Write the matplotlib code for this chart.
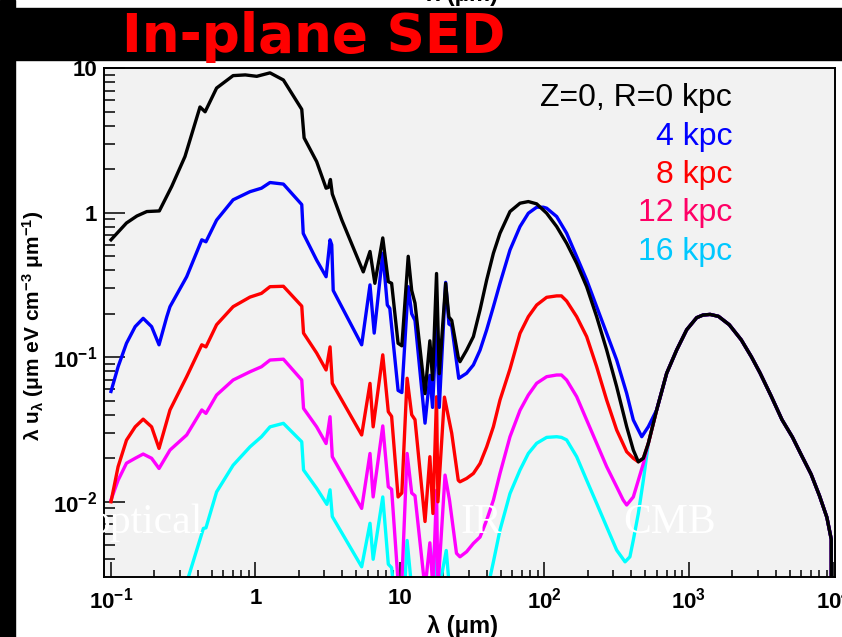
import numpy as np
import matplotlib
matplotlib.use('Agg')
import matplotlib.pyplot as plt
from matplotlib.patches import Rectangle
from matplotlib.ticker import LogLocator, FuncFormatter, NullFormatter

plt.rcParams['font.family'] = ['Liberation Sans', 'DejaVu Sans']
plt.rcParams['mathtext.fontset'] = 'custom'
plt.rcParams['mathtext.rm'] = 'Liberation Sans'
plt.rcParams['mathtext.bf'] = 'Liberation Sans:bold'
plt.rcParams['mathtext.it'] = 'Liberation Sans:italic'

# ISRF energy density in the plane, lambda*u_lambda [eV cm^-3], lambda in um
# R = 0 kpc
lam_r0 = [0.1, 0.128, 0.151, 0.177, 0.216, 0.263, 0.325, 0.413, 0.448, 0.538,
          0.70, 0.85, 1.02, 1.26, 1.56, 2.09, 2.17, 2.65, 3.08, 3.2, 3.3, 3.4,
          3.96, 5.57, 6.2, 6.7, 7.6, 8.3, 8.75, 9.7, 10.3, 11.4, 12.05, 12.7,
          14.9, 16.1, 16.8, 17.9, 18.7, 20.7, 21.8, 22.8, 25.3, 26.0, 28.9, 32.2,
          35.8, 39.8, 44.3, 49.2, 57.7, 67.7, 77.3, 88.3, 103.5, 121.4, 142.3, 167,
          195.8, 229.6, 269.3, 315.8, 370.4, 411.8, 446.1, 483.1, 523.2]
sed_r0 = [0.65, 0.85, 0.95, 1.02, 1.03, 1.52, 2.45, 5.4, 5.0, 7.3,
          8.9, 9.0, 8.8, 9.3, 8.3, 5.2, 3.3, 2.26, 1.48, 1.5, 1.7, 1.35,
          0.89, 0.39, 0.54, 0.325, 0.67, 0.334, 0.325, 0.125, 0.12, 0.50, 0.29, 0.237,
          0.056, 0.13, 0.07, 0.38, 0.077, 0.325, 0.19, 0.18, 0.10, 0.0932, 0.112, 0.139,
          0.213, 0.343, 0.525, 0.722, 1.02, 1.165, 1.196, 1.153, 0.993, 0.803, 0.615, 0.447,
          0.308, 0.191, 0.1123, 0.0626, 0.0331, 0.0228, 0.0189, 0.020, 0.0254]

# R = 4 kpc
lam_r4 = [0.1, 0.112, 0.128, 0.147, 0.167, 0.191, 0.215, 0.243, 0.256, 0.334, 0.425,
          0.454, 0.538, 0.70, 0.916, 1.10, 1.26, 1.56, 2.09, 2.14, 2.65, 3.08,
          3.28, 3.37, 3.45, 5.43, 6.2, 6.63, 7.6, 8.17, 8.5, 9.7, 10.3, 11.4,
          12.05, 12.7, 14.9, 16.1, 16.8, 17.9, 18.7, 20.7, 21.8, 22.8, 25.5, 28.9,
          32.2, 35.8, 39.8, 44.3, 49.2, 57.7, 67.7, 77.3, 88.3, 98.2, 103.5, 121.4,
          142.3, 167, 195.8, 229.6, 269.3, 315.8, 370.4, 411.8, 471, 523.2]
sed_r4 = [0.058, 0.086, 0.125, 0.163, 0.186, 0.163, 0.122, 0.19, 0.224, 0.361, 0.65,
          0.63, 0.89, 1.23, 1.40, 1.48, 1.62, 1.58, 1.14, 0.72, 0.47, 0.361,
          0.65, 0.60, 0.29, 0.122, 0.317, 0.147, 0.525, 0.23, 0.218, 0.059, 0.057, 0.308,
          0.20, 0.18, 0.035, 0.075, 0.045, 0.17, 0.045, 0.33, 0.17, 0.165, 0.0715, 0.0775,
          0.0885, 0.112, 0.155, 0.224, 0.325, 0.553, 0.803, 0.993, 1.093, 1.093, 1.076, 0.942,
          0.722, 0.498, 0.343, 0.224, 0.1466, 0.0958, 0.0563, 0.0368, 0.0282, 0.0331]

# R = 8 kpc
lam_r8 = [0.1, 0.112, 0.128, 0.147, 0.167, 0.191, 0.215, 0.256, 0.334, 0.425, 0.454, 0.538,
          0.70, 0.916, 1.10, 1.26, 1.56, 2.09, 2.15, 2.65, 3.08, 3.28, 3.4,
          5.43, 6.2, 6.52, 7.6, 8.3, 8.75, 9.7, 10.3, 11.2, 12.05, 12.7, 14.9,
          16.1, 16.9, 17.9, 18.3, 20.3, 22.8, 25.3, 26.0, 28.9, 32.2, 35.8, 39.8,
          44.3, 49.2, 57.7, 67.7, 77.3, 88.3, 103.5, 121.4, 131, 142.3, 167, 195.8,
          229.6, 269.3, 315.8, 370.4, 411.8, 446.1, 483.1, 523.2]
sed_r8 = [0.010, 0.0175, 0.0267, 0.033, 0.0373, 0.033, 0.0234, 0.0432, 0.0734, 0.122, 0.118, 0.168,
          0.224, 0.261, 0.277, 0.308, 0.31, 0.226, 0.147, 0.107, 0.0817, 0.118, 0.066,
          0.029, 0.066, 0.033, 0.104, 0.042, 0.039, 0.0108, 0.0115, 0.0716, 0.040, 0.037, 0.0073,
          0.0205, 0.0083, 0.0533, 0.010, 0.053, 0.0298, 0.0141, 0.01375, 0.0145, 0.0157, 0.0184, 0.024,
          0.0331, 0.0506, 0.083, 0.1466, 0.191, 0.230, 0.260, 0.266, 0.266, 0.245, 0.191, 0.139,
          0.086, 0.0506, 0.0314, 0.0222, 0.020, 0.0189, 0.020, 0.0254]

# R = 12 kpc
lam_r12 = [0.1, 0.112, 0.128, 0.147, 0.167, 0.191, 0.215, 0.256, 0.334, 0.425, 0.454, 0.538,
           0.70, 0.916, 1.10, 1.26, 1.56, 2.09, 2.15, 2.65, 3.08, 3.28, 3.4,
           5.43, 6.2, 6.52, 7.6, 8.3, 8.75, 9.7, 10.3, 11.2, 12.05, 12.7, 14.9,
           16.1, 16.9, 17.9, 18.3, 20.5, 22, 24.6, 26.0, 28.9, 32.2, 35.8, 39.8,
           44.3, 49.2, 57.7, 67.7, 77.3, 88.3, 103.5, 121.4, 131, 142.3, 167, 195.8,
           229.6, 269.3, 315.8, 350, 370.4, 411.8, 446.1, 483.1, 523.2]
sed_r12 = [0.0103, 0.0141, 0.0185, 0.020, 0.0214, 0.020, 0.017, 0.0228, 0.029, 0.0432, 0.0409, 0.0548,
           0.0696, 0.0794, 0.086, 0.0957, 0.097, 0.0696, 0.0443, 0.033, 0.0253, 0.0388, 0.0205,
           0.009, 0.0216, 0.0108, 0.0335, 0.0127, 0.0122, 0.0028, 0.0028, 0.0216, 0.0115, 0.011, 0.0025,
           0.0052, 0.0025, 0.012, 0.0025, 0.0153, 0.0103, 0.0044, 0.00416, 0.00451, 0.00515, 0.0057, 0.00747,
           0.01027, 0.0157, 0.0282, 0.043, 0.0548, 0.0661, 0.0734, 0.0754, 0.0754, 0.0696, 0.0534, 0.0368,
           0.0254, 0.0175, 0.0127, 0.0103, 0.0095, 0.0108, 0.0141, 0.0184, 0.0254]

# R = 16 kpc
lam_r16 = [0.32, 0.436, 0.454, 0.538, 0.70, 0.916, 1.10, 1.26, 1.56, 2.09,
           2.15, 2.65, 3.12, 3.28, 3.4, 5.43, 6.2, 6.52, 7.6, 8.3, 8.75, 9.5,
           10.5, 11.2, 12.05, 12.7, 16.5, 17.4, 18.2, 20.9, 22, 40, 42, 44.3,
           49.2, 57.7, 67.7, 77.3, 88.3, 103.5, 121.4, 131, 142.3, 167, 195.8, 229.6,
           269.3, 315.8, 361, 390, 411.8, 446.1, 483.1, 523.2]
sed_r16 = [0.0024, 0.00654, 0.0066, 0.0117, 0.0179, 0.024, 0.0282, 0.033, 0.0349, 0.026,
           0.0166, 0.0124, 0.0096, 0.0121, 0.0079, 0.00355, 0.0071, 0.0040, 0.0108, 0.0037, 0.0035, 0.0015,
           0.0015, 0.0054, 0.0025, 0.0022, 0.0022, 0.0052, 0.0022, 0.0046, 0.0025, 0.0025, 0.003, 0.00384,
           0.00637, 0.0114, 0.0166, 0.0216, 0.0254, 0.0279, 0.0282, 0.0279, 0.0268, 0.0205, 0.0141, 0.00975,
           0.00671, 0.00463, 0.00384, 0.00416, 0.00543, 0.0083, 0.0141, 0.0254]

# CMB tail shared by all radii
lam_cmb = [597.4, 700.6, 821.5, 963.6, 1130, 1250, 1400, 1600, 1900, 2300,
           2700, 3100, 3700, 4400, 5200, 6000, 7000, 8000, 9000, 9650, 9700]
sed_cmb = [0.0432, 0.0775, 0.1123, 0.155, 0.188, 0.196, 0.198, 0.192, 0.168, 0.132,
           0.101, 0.078, 0.054, 0.037, 0.028, 0.021, 0.0155, 0.011, 0.0078, 0.0055, 0.0001]

labels = ['Z=0, R=0 kpc', '4 kpc', '8 kpc', '12 kpc', '16 kpc']
line_colors = ['black', '#0000ff', '#ff0000', '#ff00ff', '#00ffff']
text_colors = ['black', '#0000ff', '#ff0000', '#ff0066', '#00c8ff']
curves = [(lam_r0, sed_r0), (lam_r4, sed_r4), (lam_r8, sed_r8),
          (lam_r12, sed_r12), (lam_r16, sed_r16)]

W, H = 842, 637
fig = plt.figure(figsize=(W / 100, H / 100), dpi=100)

# slide decoration: black title band and left strip
fig.text(462 / W, 1 - 6 / H, 'λ (μm)', ha='center', va='bottom',
         fontsize=17, fontweight='bold', zorder=1)
fig.patches.append(Rectangle((0, 1 - 60 / H), 1, 52 / H, transform=fig.transFigure,
                             color='black', zorder=2))
fig.patches.append(Rectangle((0, 0), 15 / W, 1, transform=fig.transFigure,
                             color='black', zorder=2))
fig.text(122 / W, 1 - 52 / H, 'In-plane SED', color='#ff0000', fontsize=38.3,
         fontweight='bold', family='DejaVu Sans', va='baseline', ha='left', zorder=5)

ax = fig.add_axes([104 / W, 1 - 576.7 / H, (835 - 104) / W, (576.7 - 68.3) / H])
ax.set_facecolor('#f2f2f2')

for (lam, sed), c in reversed(list(zip(curves, line_colors))):
    x = np.concatenate([lam, lam_cmb])
    y = np.concatenate([sed, sed_cmb])
    ax.plot(x, y, color=c, lw=2.4, solid_joinstyle='round')

ax.set_xscale('log')
ax.set_yscale('log')
ax.set_xlim(10 ** -1.0484, 10 ** 4.0104)
ax.set_ylim(0.00303, 10)


def dec_label(v, pos):
    e = int(round(np.log10(v)))
    if e == 0:
        return '1'
    if e == 1:
        return '10'
    return r'$\mathbf{10^{%d}}$' % e


for axis in (ax.xaxis, ax.yaxis):
    axis.set_major_locator(LogLocator(base=10, numticks=100))
    axis.set_minor_locator(LogLocator(base=10, subs=np.arange(2, 10), numticks=100))
    axis.set_major_formatter(FuncFormatter(dec_label))
    axis.set_minor_formatter(NullFormatter())

ax.tick_params(axis='both', which='both', direction='in', width=1.1,
               top=False, right=False, labelsize=16)
ax.tick_params(axis='y', which='major', length=15, pad=5)
ax.tick_params(axis='y', which='minor', length=8)
ax.tick_params(axis='x', which='major', length=11, pad=8)
ax.tick_params(axis='x', which='minor', length=5)
for lab in ax.get_xticklabels() + ax.get_yticklabels():
    lab.set_fontweight('bold')
for sp in ax.spines.values():
    sp.set_linewidth(1.4)

# axis titles
fig.text(462 / W, 1 - 627 / H, 'λ (μm)', ha='center', va='center',
         fontsize=17, fontweight='bold')
fig.text(33 / W, 1 - 326 / H,
         r'λ $\mathbf{u_{\lambda}}$ (μm eV cm$^{\mathbf{-3}}$ μm$^{\mathbf{-1}}$)',
         rotation=90, ha='center', va='center', fontsize=15, fontweight='bold')

# radius legend
for i, (txt, c) in enumerate(zip(labels, text_colors)):
    fig.text(732 / W, 1 - (106 + 38.5 * i) / H, txt, color=c, fontsize=23,
             ha='right', va='baseline')

# band names
serif = ['Liberation Serif', 'DejaVu Serif']
ax.text(0.43, 0.00607, 'optical', color='white', fontsize=30, family=serif,
        ha='right', va='baseline', zorder=10)
ax.text(26.1, 0.00607, 'IR', color='white', fontsize=30, family=serif,
        ha='left', va='baseline', zorder=10)
ax.text(349, 0.00607, 'CMB', color='white', fontsize=30, family=serif,
        ha='left', va='baseline', zorder=10)

fig.savefig('out.png', dpi=100)
